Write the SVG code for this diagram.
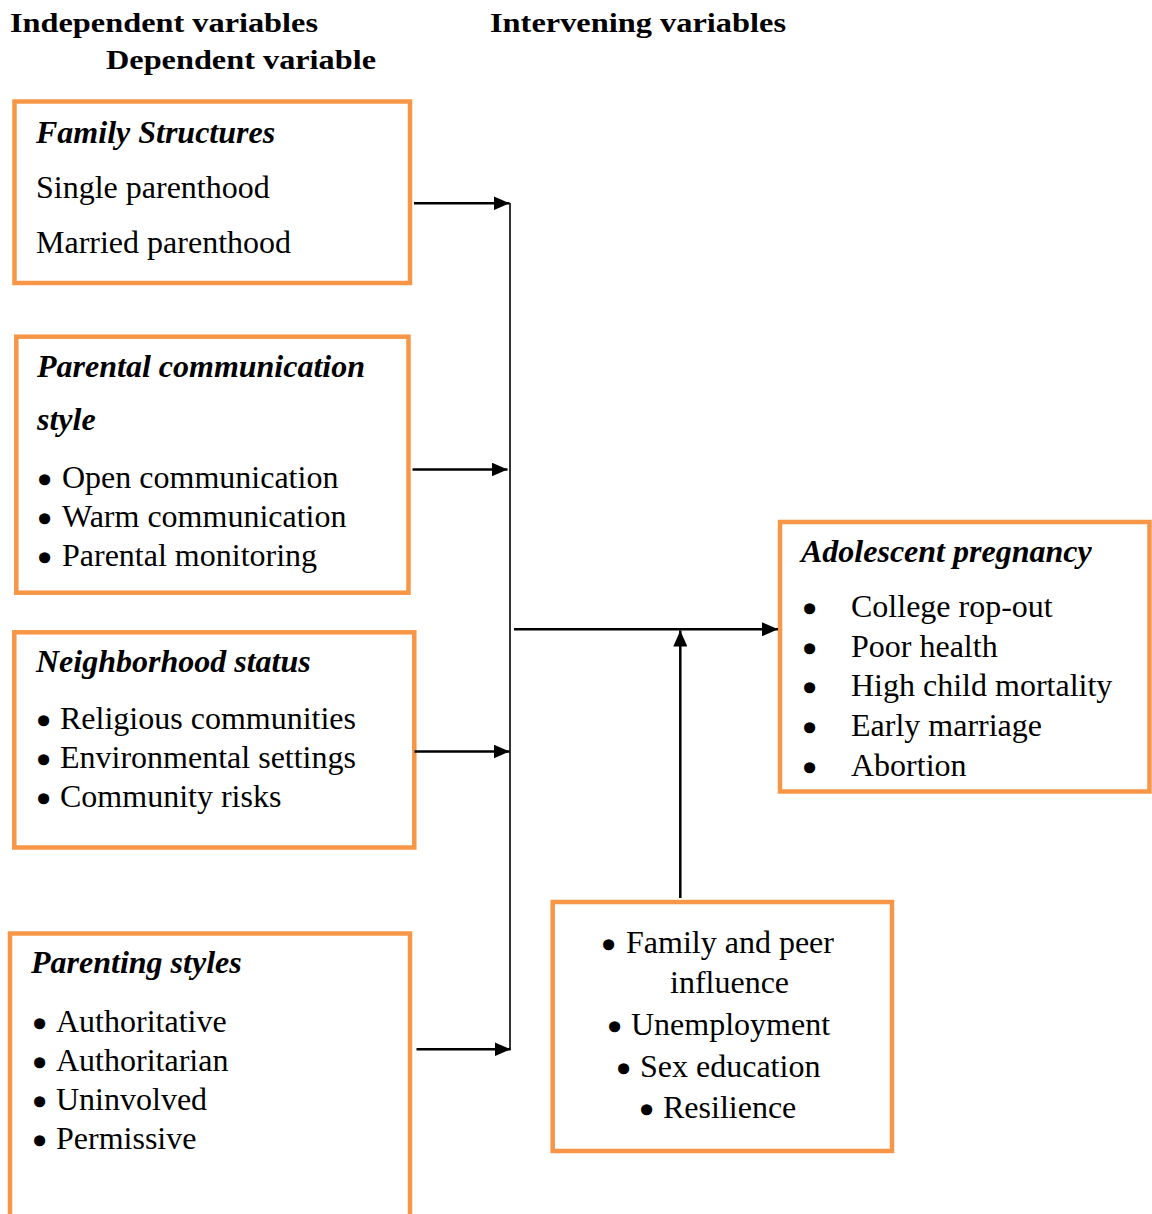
<svg xmlns="http://www.w3.org/2000/svg" width="1152" height="1214" viewBox="0 0 1152 1214">
<defs>
<style>
.box{fill:#fff;stroke:#F79646;stroke-width:4.5}
text{font-family:"Liberation Serif","Times New Roman",serif;fill:#000}
.hd{font-size:28px;font-weight:bold}
.tt{font-size:32px;font-weight:bold;font-style:italic}
.tx{font-size:32px}
.bu{font-size:32px;stroke:#000;stroke-width:3.5;stroke-linejoin:round}
.ln{stroke:#000;stroke-width:2.5;fill:none}
.vl{stroke:#000;stroke-width:1.6;fill:none}
</style>
<marker id="ah" viewBox="0 0 16 14" refX="16" refY="7" markerWidth="16" markerHeight="14" markerUnits="userSpaceOnUse" orient="auto">
<path d="M0,0 L16,7 L0,14 Z" fill="#000"/>
</marker>
</defs>
<rect width="1152" height="1214" fill="#fff"/>
<g id="headers">
<text class="hd" x="10" y="32" textLength="308" lengthAdjust="spacingAndGlyphs">Independent variables</text>
<text class="hd" x="490" y="32" textLength="296" lengthAdjust="spacingAndGlyphs">Intervening variables</text>
<text class="hd" x="106" y="69" textLength="270" lengthAdjust="spacingAndGlyphs">Dependent variable</text>
</g>
<g id="family-structures">
<rect class="box" x="14.5" y="101.5" width="395.5" height="181.5"/>
<text class="tt" x="36" y="143">Family Structures</text>
<text class="tx" x="36" y="198">Single parenthood</text>
<text class="tx" x="36" y="253">Married parenthood</text>
</g>
<g id="parental-communication">
<rect class="box" x="16.3" y="336.7" width="392.2" height="256"/>
<text class="tt" x="37" y="377">Parental communication</text>
<text class="tt" x="37" y="430">style</text>
<text class="bu" x="39" y="491">•</text><text class="tx" x="62" y="488">Open communication</text>
<text class="bu" x="39" y="530">•</text><text class="tx" x="62" y="527">Warm communication</text>
<text class="bu" x="39" y="569">•</text><text class="tx" x="62" y="566">Parental monitoring</text>
</g>
<g id="neighborhood-status">
<rect class="box" x="14.3" y="632.3" width="400" height="215.2"/>
<text class="tt" x="36" y="672">Neighborhood status</text>
<text class="bu" x="38" y="732">•</text><text class="tx" x="60" y="729">Religious communities</text>
<text class="bu" x="38" y="771">•</text><text class="tx" x="60" y="768">Environmental settings</text>
<text class="bu" x="38" y="810">•</text><text class="tx" x="60" y="807">Community risks</text>
</g>
<g id="parenting-styles">
<rect class="box" x="10" y="933.5" width="400" height="300"/>
<text class="tt" x="31" y="973">Parenting styles</text>
<text class="bu" x="34" y="1035">•</text><text class="tx" x="56" y="1032">Authoritative</text>
<text class="bu" x="34" y="1074">•</text><text class="tx" x="56" y="1071">Authoritarian</text>
<text class="bu" x="34" y="1113">•</text><text class="tx" x="56" y="1110">Uninvolved</text>
<text class="bu" x="34" y="1152">•</text><text class="tx" x="56" y="1149">Permissive</text>
</g>
<g id="adolescent-pregnancy">
<rect class="box" x="780" y="522" width="369.5" height="269.5"/>
<text class="tt" x="801" y="562">Adolescent pregnancy</text>
<text class="bu" x="804" y="620">•</text><text class="tx" x="851" y="617">College rop-out</text>
<text class="bu" x="804" y="660">•</text><text class="tx" x="851" y="657">Poor health</text>
<text class="bu" x="804" y="699">•</text><text class="tx" x="851" y="696">High child mortality</text>
<text class="bu" x="804" y="739">•</text><text class="tx" x="851" y="736">Early marriage</text>
<text class="bu" x="804" y="779">•</text><text class="tx" x="851" y="776">Abortion</text>
</g>
<g id="intervening-variables">
<rect class="box" x="552.7" y="902" width="339.3" height="249"/>
<text class="bu" x="603" y="956">•</text><text class="tx" x="626" y="953">Family and peer</text>
<text class="tx" x="670" y="993">influence</text>
<text class="bu" x="609" y="1038">•</text><text class="tx" x="631" y="1035">Unemployment</text>
<text class="bu" x="618" y="1080">•</text><text class="tx" x="640" y="1077">Sex education</text>
<text class="bu" x="641" y="1121">•</text><text class="tx" x="663" y="1118">Resilience</text>
</g>
<g id="connectors">
<line class="vl" x1="510" y1="203" x2="510" y2="1050"/>
<line class="ln" x1="414" y1="203.3" x2="509.5" y2="203.3" marker-end="url(#ah)"/>
<line class="ln" x1="412.5" y1="469.5" x2="507.5" y2="469.5" marker-end="url(#ah)"/>
<line class="ln" x1="414.5" y1="751.5" x2="509.5" y2="751.5" marker-end="url(#ah)"/>
<line class="ln" x1="416.5" y1="1049.3" x2="510.5" y2="1049.3" marker-end="url(#ah)"/>
<line class="ln" x1="514" y1="629.3" x2="778" y2="629.3" marker-end="url(#ah)"/>
<line class="ln" x1="680.3" y1="898" x2="680.3" y2="630.5" marker-end="url(#ah)"/>
</g>
</svg>
